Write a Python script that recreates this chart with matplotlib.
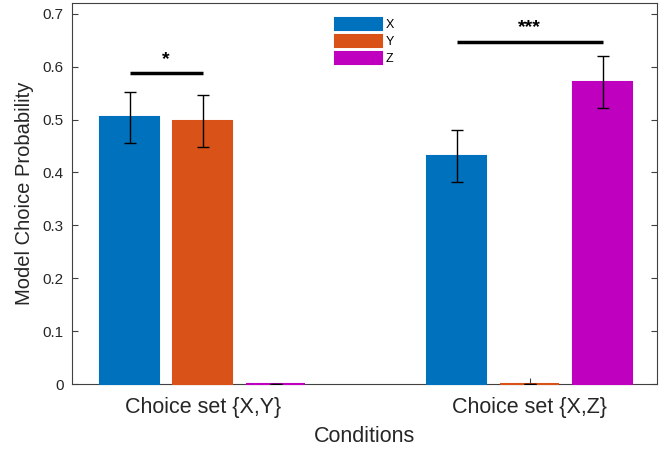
import numpy as np
import matplotlib
matplotlib.use('Agg')
from matplotlib import pyplot as plt

plt.rcParams['font.family'] = ['Liberation Sans', 'DejaVu Sans']

conditions = ['Choice set {X,Y}', 'Choice set {X,Z}']
options = ['X', 'Y', 'Z']
colors = ['#0072BD', '#D95319', '#BF00BF']

# Probabilities per option for each condition
prob_x = [0.504, 0.431]
prob_y = [0.497, 0.0]
prob_z = [0.0, 0.571]
err_x = [0.049, 0.049]
err_y = [0.049, 0.0]
err_z = [0.0, 0.049]

# Significance markers: (condition, option a, option b, line height, label)
sig = [(0, 0, 1, 0.588, '*'), (1, 0, 2, 0.647, '***')]

fig = plt.figure(figsize=(6.72, 4.53), dpi=100)
ax = fig.add_axes([0.107, 0.152, 0.871, 0.841])

x = np.arange(1, len(conditions) + 1)
width = 0.18
offsets = [-0.223, 0.0, 0.223]
probs = [prob_x, prob_y, prob_z]
errs = [err_x, err_y, err_z]

for k in range(3):
    ax.bar(x + offsets[k], probs[k], width, color=colors[k], label=options[k],
           edgecolor=colors[k], linewidth=1.5, zorder=3, clip_on=False)
    ax.errorbar(x + offsets[k], probs[k], yerr=errs[k], fmt='none',
                ecolor='black', elinewidth=1, capsize=4, capthick=1, zorder=4)

for c, a, b, h, label in sig:
    ax.plot([x[c] + offsets[a], x[c] + offsets[b]], [h, h], color='black', lw=2.5,
            solid_capstyle='butt')
    ax.text((x[c] + offsets[a] + x[c] + offsets[b]) / 2, h + 0.01, label,
            ha='center', va='bottom', fontsize=14, fontweight='bold')

ax.set_xlim(0.6, 2.39)
ax.set_ylim(0, 0.72)
ax.set_xticks(x)
ax.set_xticklabels(conditions, fontsize=15.5)
ax.set_yticks(np.arange(0, 0.71, 0.1))
ax.set_yticklabels(['0', '0.1', '0.2', '0.3', '0.4', '0.5', '0.6', '0.7'], fontsize=11)
ax.tick_params(direction='in', length=4, color='#404040', labelcolor='#262626')
ax.tick_params(axis='y', right=True, pad=6)
ax.tick_params(axis='x', pad=9)
for s in ax.spines.values():
    s.set_color('#404040')
    s.set_linewidth(0.8)

ax.set_xlabel('Conditions', fontsize=15.5, color='#262626', labelpad=6)
ax.set_ylabel('Model Choice Probability', fontsize=14.5, color='#262626', labelpad=6)

ax.legend(loc='upper center', bbox_to_anchor=(0.50, 0.99), frameon=False, fontsize=9,
          handlelength=3.7, handleheight=1.1, labelspacing=0.3, handletextpad=0.3)

fig.savefig('out.png', dpi=100)
